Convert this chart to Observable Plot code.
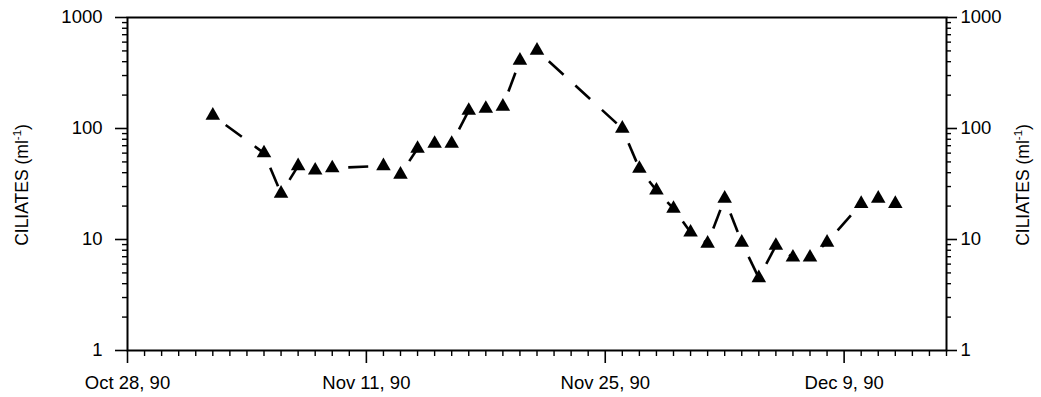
<!DOCTYPE html>
<html>
<head>
<meta charset="utf-8">
<script src="https://cdn.jsdelivr.net/npm/d3@7"></script>
<script src="https://cdn.jsdelivr.net/npm/@observablehq/plot@0.6"></script>
<style>
  html, body { margin: 0; padding: 0; background: #fff; }
  #chart svg { display: block; }
</style>
</head>
<body>
<div id="chart"></div>
<script>
// ---- data ----
const dates = [
  "1990-11-02", "1990-11-05", "1990-11-06", "1990-11-07", "1990-11-08", "1990-11-09",
  "1990-11-12", "1990-11-13", "1990-11-14", "1990-11-15", "1990-11-16", "1990-11-17",
  "1990-11-18", "1990-11-19", "1990-11-20", "1990-11-21", "1990-11-26", "1990-11-27",
  "1990-11-28", "1990-11-29", "1990-11-30", "1990-12-01", "1990-12-02", "1990-12-03",
  "1990-12-04", "1990-12-05", "1990-12-06", "1990-12-07", "1990-12-08", "1990-12-10",
  "1990-12-11", "1990-12-12"
];
const ciliates = [
  131, 60, 26, 46, 42, 44,
  46, 38.5, 66, 73, 73, 145,
  151, 158, 410, 505, 100, 43.5,
  27.7, 19, 11.6, 9.2, 23.4, 9.4,
  4.5, 8.8, 6.9, 6.9, 9.4, 21,
  23.4, 21
];
const xDomain = ["1990-10-28", "1990-12-15"];
const xMajorTicks = ["1990-10-28", "1990-11-11", "1990-11-25", "1990-12-09"];
const xTickLabels = ["Oct 28, 90", "Nov 11, 90", "Nov 25, 90", "Dec 9, 90"];
const yMajorTicks = [1, 10, 100, 1000];
const yTickLabels = ["1", "10", "100", "1000"];
const axisTitle = "CILIATES (ml";
const axisTitleSup = "-1";

// ---- build ----
const parse = s => new Date(s + "T00:00:00Z");
const data = dates.map((d, i) => ({date: parse(d), value: ciliates[i]}));
const segs = data.slice(1).map((d, i) => ({x1: data[i].date, y1: data[i].value, x2: d.date, y2: d.value}));
const start = parse(xDomain[0]), end = parse(xDomain[1]);
const majorX = xMajorTicks.map(parse);
const majorSet = new Set(majorX.map(d => +d));
const xLabel = new Map(majorX.map((d, i) => [+d, xTickLabels[i]]));
const minorX = d3.utcDay.range(start, d3.utcDay.offset(end, 1)).filter(d => !majorSet.has(+d));
const yLabel = new Map(yMajorTicks.map((v, i) => [v, yTickLabels[i]]));
const minorY = [];
for (let e = 0; e < 3; e++) for (let k = 2; k <= 9; k++) minorY.push(k * Math.pow(10, e));

const font = "'Liberation Sans', Arial, Helvetica, sans-serif";

const chart = Plot.plot({
  width: 1041,
  height: 397,
  marginLeft: 127,
  marginRight: 95,
  marginTop: 17,
  marginBottom: 47,
  x: {type: "utc", domain: [start, end]},
  y: {type: "log", domain: [1, 1000]},
  style: {fontFamily: font, fontSize: "18px", background: "#fff", color: "#000", overflow: "visible"},
  marks: [
    Plot.frame({stroke: "#000", strokeWidth: 2}),
    Plot.axisX({ticks: minorX, tickSize: 6, tickFormat: () => "", label: null, strokeWidth: 1.4}),
    Plot.axisX({ticks: majorX, tickSize: 13, tickPadding: 12, tickFormat: d => xLabel.get(+d), label: null, strokeWidth: 1.6}),
    Plot.axisY({ticks: minorY, tickSize: 5, tickFormat: () => "", label: null, strokeWidth: 1.4}),
    Plot.axisY({ticks: yMajorTicks, tickSize: 12, tickPadding: 13, tickFormat: v => yLabel.get(v), label: null, strokeWidth: 1.6}),
    Plot.axisY({anchor: "right", ticks: minorY, tickSize: 4, tickFormat: () => "", label: null, strokeWidth: 1.4}),
    Plot.axisY({anchor: "right", ticks: yMajorTicks, tickSize: 10, tickPadding: 4, tickFormat: v => yLabel.get(v), label: null, strokeWidth: 1.6}),
    Plot.link(segs, {x1: "x1", y1: "y1", x2: "x2", y2: "y2", stroke: "#000", strokeWidth: 2.6,
      strokeDasharray: "20,16", strokeDashoffset: 20}),
    Plot.dot(data, {x: "date", y: "value", symbol: "triangle", fill: "#000", stroke: "none", r: 5.4})
  ]
});

const svg = d3.select(chart);
svg.selectAll("g[aria-label$='tick label'] text, g[aria-label$='tick label']")
  .style("font-size", "18.5px").style("font-family", font);

function addTitle(x) {
  const t = svg.append("text")
    .attr("transform", `translate(${x},185) rotate(-90)`)
    .attr("text-anchor", "middle")
    .attr("font-family", font)
    .attr("font-size", 17.5)
    .attr("fill", "#000");
  t.append("tspan").text(axisTitle);
  t.append("tspan").attr("dy", -7).attr("font-size", 11.5).text(axisTitleSup);
  t.append("tspan").attr("dy", 7).text(")");
}
addTitle(28);
addTitle(1029);

document.getElementById("chart").appendChild(chart);
</script>
</body>
</html>
